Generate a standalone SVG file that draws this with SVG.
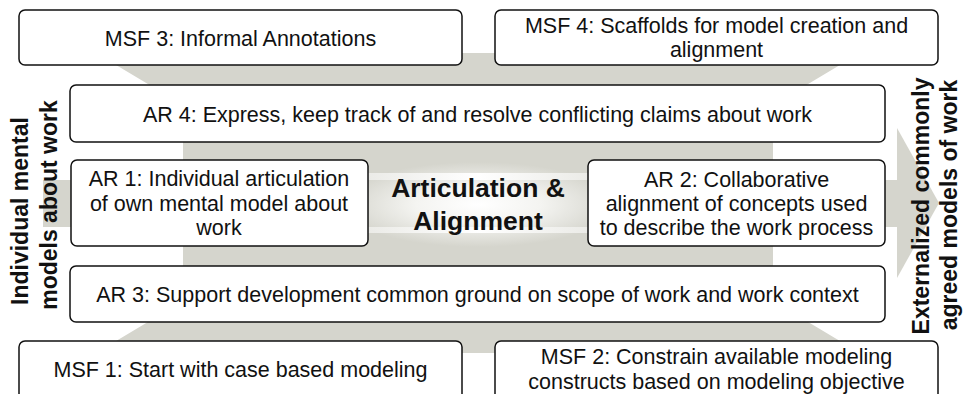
<svg xmlns="http://www.w3.org/2000/svg" width="963" height="394" viewBox="0 0 963 394">
<defs>
<style>
.box{fill:#fff;stroke:#111;stroke-width:1.5}
.t{font-family:"Liberation Sans",Arial,sans-serif;font-size:21.5px;fill:#111;text-anchor:middle}
.b{font-family:"Liberation Sans",Arial,sans-serif;font-weight:bold;font-size:23px;fill:#111;text-anchor:middle}
.c{font-family:"Liberation Sans",Arial,sans-serif;font-weight:bold;font-size:26.5px;fill:#111;text-anchor:middle}
.g{fill:#d5d5cd}
</style>
<radialGradient id="glow" cx="0.5" cy="0.5" r="0.5">
<stop offset="0" stop-color="#ffffff"/>
<stop offset="0.45" stop-color="#f4f4f1"/>
<stop offset="1" stop-color="#d5d5cd"/>
</radialGradient>
<linearGradient id="stripe" x1="0" y1="0" x2="1" y2="0">
<stop offset="0" stop-color="#e6e6e1"/>
<stop offset="0.5" stop-color="#ffffff"/>
<stop offset="1" stop-color="#e6e6e1"/>
</linearGradient>
</defs>
<g id="background">
<polygon class="g" points="96,53 860,53 773,105 773,301 860,353 96,353 183,301 183,105"/>
<rect class="g" x="43" y="180" width="855" height="47"/>
<polygon class="g" points="897,128 939,203 897,278"/>
<rect x="340" y="162" width="276" height="85" fill="url(#glow)"/>
<rect x="340" y="173" width="276" height="7" fill="url(#stripe)"/>
<rect x="340" y="227" width="276" height="6" fill="url(#stripe)"/>
</g>
<g id="connectors"></g>
<g id="msf3"><rect class="box" x="19" y="10" width="443" height="55" rx="6"/><text class="t" x="240.5" y="46">MSF 3: Informal Annotations</text></g>
<g id="msf4"><rect class="box" x="495" y="10" width="443" height="55" rx="6"/><text class="t" x="716.5" y="33">MSF 4: Scaffolds for model creation and</text><text class="t" x="716.5" y="56.5">alignment</text></g>
<g id="ar4"><rect class="box" x="70" y="85" width="815" height="57" rx="6"/><text class="t" x="477.5" y="122">AR 4: Express, keep track of and resolve conflicting claims about work</text></g>
<g id="ar1"><rect class="box" x="71" y="160" width="297" height="86" rx="6"/><text class="t" x="219" y="186">AR 1: Individual articulation</text><text class="t" x="219" y="210.5">of own mental model about</text><text class="t" x="219" y="235">work</text></g>
<g id="center"><text class="c" x="478" y="197">Articulation &amp;</text><text class="c" x="478" y="230">Alignment</text></g>
<g id="ar2"><rect class="box" x="588" y="160" width="297" height="86" rx="6"/><text class="t" x="736.5" y="186.5">AR 2: Collaborative</text><text class="t" x="736.5" y="210.5">alignment of concepts used</text><text class="t" x="736.5" y="235">to describe the work process</text></g>
<g id="ar3"><rect class="box" x="70" y="266" width="815" height="56" rx="6"/><text class="t" x="477.5" y="301.5">AR 3: Support development common ground on scope of work and work context</text></g>
<g id="msf1"><rect class="box" x="19" y="341" width="443" height="60" rx="6"/><text class="t" x="240.5" y="377">MSF 1: Start with case based modeling</text></g>
<g id="msf2"><rect class="box" x="495" y="341" width="443" height="60" rx="6"/><text class="t" x="716.5" y="364">MSF 2: Constrain available modeling</text><text class="t" x="716.5" y="389">constructs based on modeling objective</text></g>
<g id="left-label"><text class="b" transform="translate(28,211) rotate(-90)">Individual mental</text><text class="b" transform="translate(57,205) rotate(-90)">models about work</text></g>
<g id="right-label"><text class="b" transform="translate(929,206) rotate(-90)">Externalized commonly</text><text class="b" transform="translate(957,205) rotate(-90)">agreed models of work</text></g>
</svg>
